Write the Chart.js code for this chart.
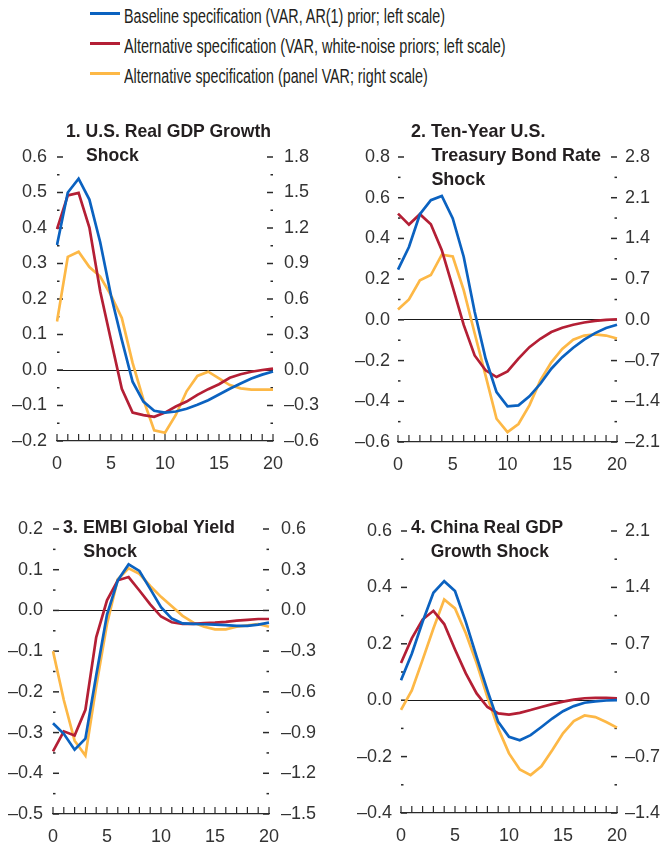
<!DOCTYPE html>
<html><head><meta charset="utf-8">
<script src="https://cdn.jsdelivr.net/npm/chart.js@4.4.1/dist/chart.umd.min.js"></script>
<style>
html,body{margin:0;padding:0;background:#fff}
body{width:660px;height:850px;position:relative;overflow:hidden;font-family:'Liberation Sans',Arial,sans-serif;color:#231f20}
canvas{position:absolute;z-index:1}
.lrow{position:absolute;left:90px;height:24px;width:560px;line-height:24px;font-size:20px;white-space:nowrap}
.sw{position:absolute;left:0;top:7.6px;width:30px;height:3px}
.lt{position:absolute;left:34px;top:0;transform-origin:0 0;display:inline-block}
.title{position:absolute;z-index:2;font-family:'Liberation Sans',Arial,sans-serif;font-weight:bold;font-size:18.5px;line-height:24px;white-space:nowrap;transform-origin:0 0;color:#231f20}
.title .l2{display:block;padding-left:21px}
</style></head>
<body>
<div class="lrow" style="top:4.4px"><span class="sw" style="background:#0b62c0"></span><span class="lt" data-w="321">Baseline specification (VAR, AR(1) prior; left scale)</span></div>
<div class="lrow" style="top:34.4px"><span class="sw" style="background:#b41f35"></span><span class="lt" data-w="381.7">Alternative specification (VAR, white-noise priors; left scale)</span></div>
<div class="lrow" style="top:64.4px"><span class="sw" style="background:#fdb846"></span><span class="lt" data-w="303.7">Alternative specification (panel VAR; right scale)</span></div>

<div class="title" style="left:66px;top:119px" data-w="205"><span class="l1">1. U.S. Real GDP Growth</span><span class="l2">Shock</span></div>
<div class="title" style="left:411px;top:119px" data-w="190"><span class="l1">2. Ten-Year U.S.</span><span class="l2">Treasury Bond Rate</span><span class="l2">Shock</span></div>
<div class="title" style="left:63px;top:515px" data-w="172"><span class="l1">3. EMBI Global Yield</span><span class="l2">Shock</span></div>
<div class="title" style="left:411px;top:515px" data-w="152"><span class="l1">4. China Real GDP</span><span class="l2">Growth Shock</span></div>

<canvas id="c1" width="330" height="380" style="left:0;top:110px"></canvas>
<canvas id="c2" width="330" height="380" style="left:330px;top:110px"></canvas>
<canvas id="c3" width="330" height="370" style="left:0;top:480px"></canvas>
<canvas id="c4" width="330" height="370" style="left:330px;top:480px"></canvas>

<script>
// ---------- DATA ----------
const periods = [0,1,2,3,4,5,6,7,8,9,10,11,12,13,14,15,16,17,18,19,20];

// Panel 1: U.S. Real GDP Growth Shock
const usGdpBaseline = [0.352,0.50,0.539,0.48,0.36,0.21,0.085,-0.033,-0.089,-0.115,-0.12,-0.117,-0.109,-0.098,-0.085,-0.069,-0.053,-0.038,-0.024,-0.013,-0.004];
const usGdpWhiteNoise = [0.397,0.492,0.499,0.401,0.222,0.084,-0.053,-0.12,-0.127,-0.132,-0.12,-0.103,-0.089,-0.07,-0.054,-0.04,-0.022,-0.012,-0.005,0.0,0.004];
const usGdpPanel = [0.41,0.956,1.0,0.87,0.79,0.63,0.44,0.06,-0.25,-0.51,-0.53,-0.38,-0.18,-0.05,-0.014,-0.07,-0.127,-0.155,-0.165,-0.165,-0.165];
const usGdpLeftTicks = [0.6,0.5,0.4,0.3,0.2,0.1,0.0,-0.1,-0.2];
const usGdpRightTicks = [1.8,1.5,1.2,0.9,0.6,0.3,0.0,-0.3,-0.6];

// Panel 2: Ten-Year U.S. Treasury Bond Rate Shock
const tbondBaseline = [0.247,0.358,0.519,0.588,0.609,0.498,0.31,0.04,-0.19,-0.355,-0.425,-0.42,-0.376,-0.314,-0.24,-0.183,-0.137,-0.097,-0.065,-0.04,-0.024];
const tbondWhiteNoise = [0.522,0.468,0.519,0.47,0.342,0.161,-0.025,-0.175,-0.248,-0.281,-0.253,-0.19,-0.134,-0.093,-0.06,-0.039,-0.024,-0.013,-0.005,0.0,0.003];
const tbondPanel = [0.18,0.35,0.68,0.77,1.12,1.09,0.51,-0.23,-0.96,-1.70,-1.93,-1.79,-1.47,-1.04,-0.73,-0.50,-0.34,-0.27,-0.25,-0.27,-0.32];
const tbondLeftTicks = [0.8,0.6,0.4,0.2,0.0,-0.2,-0.4,-0.6];
const tbondRightTicks = [2.8,2.1,1.4,0.7,0.0,-0.7,-1.4,-2.1];

// Panel 3: EMBI Global Yield Shock
const embiBaseline = [-0.277,-0.303,-0.342,-0.315,-0.16,-0.01,0.074,0.113,0.097,0.053,0.008,-0.02,-0.032,-0.033,-0.034,-0.035,-0.036,-0.038,-0.038,-0.035,-0.03];
const embiWhiteNoise = [-0.346,-0.297,-0.307,-0.244,-0.066,0.025,0.074,0.082,0.049,0.015,-0.015,-0.029,-0.033,-0.033,-0.031,-0.03,-0.028,-0.025,-0.023,-0.021,-0.021];
const embiPanel = [-0.30,-0.66,-0.96,-1.07,-0.56,-0.10,0.23,0.31,0.27,0.18,0.10,0.03,-0.04,-0.09,-0.12,-0.14,-0.14,-0.12,-0.11,-0.10,-0.12];
const embiLeftTicks = [0.2,0.1,0.0,-0.1,-0.2,-0.3,-0.4,-0.5];
const embiRightTicks = [0.6,0.3,0.0,-0.3,-0.6,-0.9,-1.2,-1.5];

// Panel 4: China Real GDP Growth Shock
const chinaBaseline = [0.071,0.165,0.278,0.381,0.422,0.387,0.278,0.154,0.035,-0.077,-0.13,-0.142,-0.124,-0.095,-0.065,-0.039,-0.021,-0.009,-0.004,-0.001,0.0];
const chinaWhiteNoise = [0.132,0.219,0.286,0.317,0.27,0.18,0.095,0.024,-0.024,-0.047,-0.051,-0.045,-0.035,-0.024,-0.014,-0.005,0.002,0.007,0.008,0.008,0.007];
const chinaPanel = [-0.12,0.12,0.50,0.89,1.25,1.14,0.83,0.46,0.04,-0.35,-0.66,-0.86,-0.93,-0.82,-0.62,-0.41,-0.26,-0.19,-0.21,-0.27,-0.34];
const chinaLeftTicks = [0.6,0.4,0.2,0.0,-0.2,-0.4];
const chinaRightTicks = [2.1,1.4,0.7,0.0,-0.7,-1.4];

// ---------- STYLE ----------
const BLUE = '#0b62c0', RED = '#b41f35', YEL = '#fdb846';
const AX = '#2a2a2a', TXT = '#333333';
const TICK_FONT = {family:"'Liberation Sans', Arial, sans-serif", size:18};

function fmt(v){ return (v < -1e-9 ? '\u2013' : '') + Math.abs(v).toFixed(1); }
function withMinors(majors){
  const s = [...majors].sort((a,b)=>a-b), out = [];
  for (let i=0;i<s.length;i++){
    out.push({value:s[i], lbl:fmt(s[i])});
    if (i < s.length-1) out.push({value:(s[i]+s[i+1])/2, lbl:''});
  }
  return out;
}

const tickMarks = {
  id:'tickMarks',
  beforeDatasetsDraw(chart){
    const {ctx, chartArea:a, scales} = chart;
    ctx.save();
    ctx.strokeStyle = AX;
    ctx.lineWidth = 1.2;
    const xs = scales.x;
    xs.ticks.forEach((t,i)=>{
      const px = xs.getPixelForTick(i);
      ctx.beginPath(); ctx.moveTo(px, a.bottom); ctx.lineTo(px, a.bottom-7); ctx.stroke();
    });
    ctx.lineWidth = 1.5;
    [['y','left'],['y1','right']].forEach(([id,side])=>{
      const s = scales[id];
      s.ticks.forEach(t=>{
        const py = s.getPixelForValue(t.value);
        const len = t.lbl ? 6 : 2.5;
        ctx.beginPath();
        if (side==='left'){ ctx.moveTo(a.left,py); ctx.lineTo(a.left+len,py); }
        else { ctx.moveTo(a.right,py); ctx.lineTo(a.right-len,py); }
        ctx.stroke();
      });
    });
    ctx.restore();
  }
};

function makeChart(id, base, wn, panel, L, R, g){
  const lmin = Math.min(...L), lmax = Math.max(...L), rmin = Math.min(...R), rmax = Math.max(...R);
  return new Chart(document.getElementById(id), {
    type:'line',
    data:{labels:periods, datasets:[
      {data:base, borderColor:BLUE, yAxisID:'y'},
      {data:wn, borderColor:RED, yAxisID:'y'},
      {data:panel, borderColor:YEL, yAxisID:'y1'}
    ]},
    options:{
      responsive:false, animation:false, events:[],
      layout:{padding:{top:g.top,left:0,right:0,bottom:0}},
      elements:{line:{borderWidth:2.7, tension:0, fill:false}, point:{radius:0}},
      plugins:{legend:{display:false}, tooltip:{enabled:false}},
      scales:{
        x:{type:'category', offset:false,
           grid:{display:false, drawTicks:false},
           border:{display:true, color:AX, width:1.3},
           ticks:{autoSkip:false, maxRotation:0, minRotation:0, padding:g.xpad, color:TXT, font:TICK_FONT,
                  callback:(v,i)=> periods[i]%5===0 ? String(periods[i]) : ''},
           afterFit:s=>{ s.height = g.xh; }},
        y:{position:'left', min:lmin, max:lmax,
           afterBuildTicks:s=>{ s.ticks = withMinors(L); },
           grid:{display:true, drawOnChartArea:true, drawTicks:false, lineWidth:1,
                 color:c=> (c.tick && Math.abs(c.tick.value)<1e-9) ? '#1a1a1a' : 'rgba(0,0,0,0)'},
           border:{display:false},
           ticks:{autoSkip:false, padding:g.lpad, color:TXT, font:TICK_FONT, callback:(v,i,t)=> t[i].lbl},
           afterFit:s=>{ s.width = g.lw; }},
        y1:{position:'right', min:rmin, max:rmax,
           afterBuildTicks:s=>{ s.ticks = withMinors(R); },
           grid:{display:false, drawTicks:false},
           border:{display:false},
           ticks:{autoSkip:false, padding:g.rpad, color:TXT, font:TICK_FONT, callback:(v,i,t)=> t[i].lbl},
           afterFit:s=>{ s.width = g.rw; }}
      }
    },
    plugins:[tickMarks]
  });
}

makeChart('c1', usGdpBaseline, usGdpWhiteNoise, usGdpPanel, usGdpLeftTicks, usGdpRightTicks,
  {top:47, lw:57, rw:57, xh:49, lpad:10, rpad:11, xpad:12});
makeChart('c2', tbondBaseline, tbondWhiteNoise, tbondPanel, tbondLeftTicks, tbondRightTicks,
  {top:47, lw:68, rw:43, xh:48, lpad:8, rpad:8, xpad:12});
makeChart('c3', embiBaseline, embiWhiteNoise, embiPanel, embiLeftTicks, embiRightTicks,
  {top:49, lw:53, rw:61, xh:36, lpad:10, rpad:12, xpad:12});
makeChart('c4', chinaBaseline, chinaWhiteNoise, chinaPanel, chinaLeftTicks, chinaRightTicks,
  {top:51, lw:71, rw:43, xh:37, lpad:9, rpad:8, xpad:12});

// fit legend / title text widths to the reference
document.querySelectorAll('.lt').forEach(el=>{
  const w = el.getBoundingClientRect().width, tw = +el.dataset.w;
  if (w > 0) el.style.transform = 'scaleX(' + (tw/w) + ')';
});
document.querySelectorAll('.title').forEach(el=>{
  let w = 0;
  const L0 = el.getBoundingClientRect().left;
  el.querySelectorAll('span').forEach(s=>{ const r = s.getBoundingClientRect(); w = Math.max(w, r.right - L0); });
  const tw = +el.dataset.w;
  if (w > 0) el.style.transform = 'scaleX(' + (tw/w) + ')';
});
</script>
</body></html>
